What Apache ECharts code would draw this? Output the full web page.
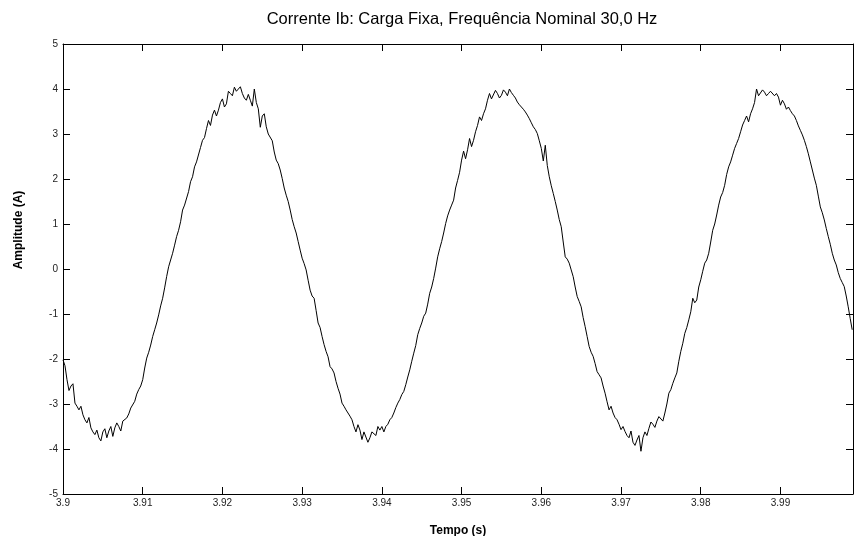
<!DOCTYPE html>
<html>
<head>
<meta charset="utf-8">
<script src="https://cdn.jsdelivr.net/npm/echarts@6/dist/echarts.min.js"></script>
<style>
html,body{margin:0;padding:0;background:#fff;}
#chart{width:854px;height:536px;}
</style>
</head>
<body>
<div id="chart"></div>
<script>
// Sampling grid (s)
const timeStart = 3.9;
const timeStep = 0.00025;
// Current Ib (A), one value per sample
const currentIb = [
  -2.02,-2.15,-2.46,-2.70,-2.60,-2.55,-2.98,-3.05,-3.13,-3.05,
  -3.24,-3.35,-3.42,-3.30,-3.53,-3.62,-3.68,-3.58,-3.75,-3.82,
  -3.62,-3.55,-3.75,-3.60,-3.50,-3.72,-3.53,-3.42,-3.50,-3.60,
  -3.38,-3.42,-3.31,-3.22,-3.09,-3.05,-2.94,-2.78,-2.68,-2.60,
  -2.46,-2.20,-1.98,-1.85,-1.69,-1.50,-1.35,-1.20,-1.02,-0.82,
  -0.65,-0.42,-0.17,0.05,0.20,0.35,0.53,0.72,0.86,1.05,
  1.31,1.42,1.46,1.72,1.94,2.05,2.27,2.38,2.42,2.70,
  2.86,2.92,3.12,3.30,3.19,3.42,3.53,3.40,3.53,3.70,
  3.78,3.60,3.67,3.95,3.90,3.85,4.04,3.95,3.93,4.05,
  3.90,3.80,3.75,3.88,3.75,3.62,4.00,3.70,3.56,3.15,
  3.40,3.45,3.16,3.00,2.97,2.85,2.60,2.42,2.34,2.20,
  2.01,1.80,1.64,1.50,1.31,1.10,0.94,0.80,0.61,0.42,
  0.24,0.12,-0.02,-0.25,-0.47,-0.60,-0.65,-0.92,-1.20,-1.30,
  -1.50,-1.68,-1.83,-1.95,-2.17,-2.22,-2.31,-2.50,-2.65,-2.78,
  -2.98,-3.05,-3.13,-3.20,-3.27,-3.35,-3.50,-3.62,-3.46,-3.58,
  -3.79,-3.62,-3.64,-3.85,-3.75,-3.62,-3.61,-3.70,-3.50,-3.58,
  -3.50,-3.62,-3.50,-3.45,-3.35,-3.30,-3.20,-3.08,-2.98,-2.90,
  -2.79,-2.72,-2.57,-2.40,-2.24,-2.05,-1.87,-1.70,-1.46,-1.32,
  -1.20,-1.05,-0.98,-0.78,-0.54,-0.40,-0.21,0.02,0.27,0.45,
  0.61,0.80,1.01,1.18,1.31,1.42,1.53,1.80,1.97,2.15,
  2.42,2.62,2.45,2.65,2.90,2.72,2.86,3.05,3.19,3.38,
  3.30,3.45,3.56,3.75,3.90,3.78,3.82,3.97,3.90,3.80,
  3.86,3.98,3.93,3.85,4.00,3.92,3.86,3.80,3.71,3.65,
  3.60,3.55,3.49,3.42,3.34,3.25,3.16,3.10,3.01,2.85,
  2.68,2.40,2.75,2.30,2.05,1.85,1.68,1.50,1.31,1.10,
  0.94,0.60,0.27,0.22,0.13,-0.02,-0.17,-0.40,-0.61,-0.72,
  -0.84,-1.08,-1.28,-1.50,-1.72,-1.85,-1.94,-2.10,-2.28,-2.35,
  -2.42,-2.60,-2.76,-2.95,-3.13,-3.05,-3.20,-3.30,-3.35,-3.45,
  -3.57,-3.50,-3.61,-3.70,-3.75,-3.60,-3.85,-3.92,-3.80,-3.70,
  -4.05,-3.75,-3.62,-3.70,-3.54,-3.40,-3.45,-3.52,-3.38,-3.28,
  -3.30,-3.38,-3.20,-3.00,-2.76,-2.68,-2.54,-2.42,-2.31,-2.05,
  -1.83,-1.65,-1.43,-1.30,-1.13,-0.95,-0.65,-0.75,-0.69,-0.40,
  -0.24,-0.05,0.13,0.20,0.35,0.60,0.86,1.00,1.20,1.42,
  1.60,1.70,1.86,2.10,2.27,2.38,2.53,2.68,2.79,2.90,
  3.05,3.20,3.30,3.40,3.27,3.45,3.56,3.70,4.00,3.85,
  3.86,3.98,3.93,3.85,3.90,3.95,3.93,3.85,3.90,3.82,
  3.64,3.75,3.67,3.55,3.60,3.52,3.45,3.40,3.30,3.18,
  3.08,2.98,2.86,2.72,2.56,2.38,2.20,2.02,1.86,1.62,
  1.38,1.25,1.09,0.90,0.72,0.55,0.35,0.20,0.09,-0.08,
  -0.21,-0.30,-0.39,-0.60,-0.84,-1.10,
  -1.35
];
const xTickLabels = ["3.9","3.91","3.92","3.93","3.94","3.95","3.96","3.97","3.98","3.99"];
const yTickLabels = ["-5","-4","-3","-2","-1","0","1","2","3","4","5"];
const titleText = "Corrente Ib: Carga Fixa, Frequência Nominal 30,0 Hz";
const xName = "Tempo (s)";
const yName = "Amplitude (A)";

const seriesData = currentIb.map((v, i) => [+(timeStart + i * timeStep).toFixed(5), v]);

const xMin = 3.9, xMax = 3.9991, yMin = -5, yMax = 5;
const font = "Liberation Sans, Arial, sans-serif";

function xLabel(v) {
  const idx = Math.round((v - xMin) / 0.01);
  if (Math.abs(v - (xMin + idx * 0.01)) > 1e-6) return "";
  return xTickLabels[idx] || "";
}
function yLabel(v) {
  const idx = Math.round(v - yMin);
  return yTickLabels[idx] || "";
}

const tickStyle = {show: true, inside: true, length: 7, lineStyle: {color: '#000', width: 1}};
const lineStyleAxis = {show: true, onZero: false, lineStyle: {color: '#000', width: 1}};

const chart = echarts.init(document.getElementById('chart'), null, {renderer: 'canvas'});
chart.setOption({
  animation: false,
  backgroundColor: '#fff',
  title: {
    text: titleText, left: 457, top: 6, textAlign: 'center',
    textStyle: {fontFamily: font, fontSize: 16.5, fontWeight: 'normal', color: '#000'}
  },
  graphic: [{
    type: 'text', x: 19, y: 230, rotation: Math.PI / 2,
    style: {text: yName, fontFamily: font, fontSize: 12, fontWeight: 'bold', fill: '#000',
      textAlign: 'center', textVerticalAlign: 'middle'}
  }],
  grid: {left: 63, right: 1, top: 44, bottom: 42, show: false, containLabel: false, outerBoundsMode: 'none'},
  xAxis: [{
    type: 'value', min: xMin, max: xMax, interval: 0.01, position: 'bottom',
    name: xName, nameLocation: 'middle', nameGap: 31,
    nameTextStyle: {fontFamily: font, fontSize: 12, fontWeight: 'bold', color: '#000'},
    axisLine: lineStyleAxis,
    axisTick: tickStyle,
    axisLabel: {show: true, formatter: xLabel, showMaxLabel: false, margin: 4,
      fontFamily: font, fontSize: 10, color: '#222'},
    splitLine: {show: false}
  }, {
    type: 'value', min: xMin, max: xMax, interval: 0.01, position: 'top',
    axisLine: lineStyleAxis,
    axisTick: tickStyle,
    axisLabel: {show: false}, splitLine: {show: false}
  }],
  yAxis: [{
    type: 'value', min: yMin, max: yMax, interval: 1, position: 'left',
    axisLine: lineStyleAxis,
    axisTick: tickStyle,
    axisLabel: {show: true, formatter: yLabel, margin: 5, fontFamily: font, fontSize: 10, color: '#222'},
    splitLine: {show: false}
  }, {
    type: 'value', min: yMin, max: yMax, interval: 1, position: 'right',
    axisLine: lineStyleAxis,
    axisTick: tickStyle,
    axisLabel: {show: false}, splitLine: {show: false}
  }],
  series: [{
    type: 'line', data: seriesData, xAxisIndex: 0, yAxisIndex: 0,
    showSymbol: false, symbol: 'none', smooth: false,
    lineStyle: {color: '#000', width: 1}
  }]
});
</script>
</body>
</html>
